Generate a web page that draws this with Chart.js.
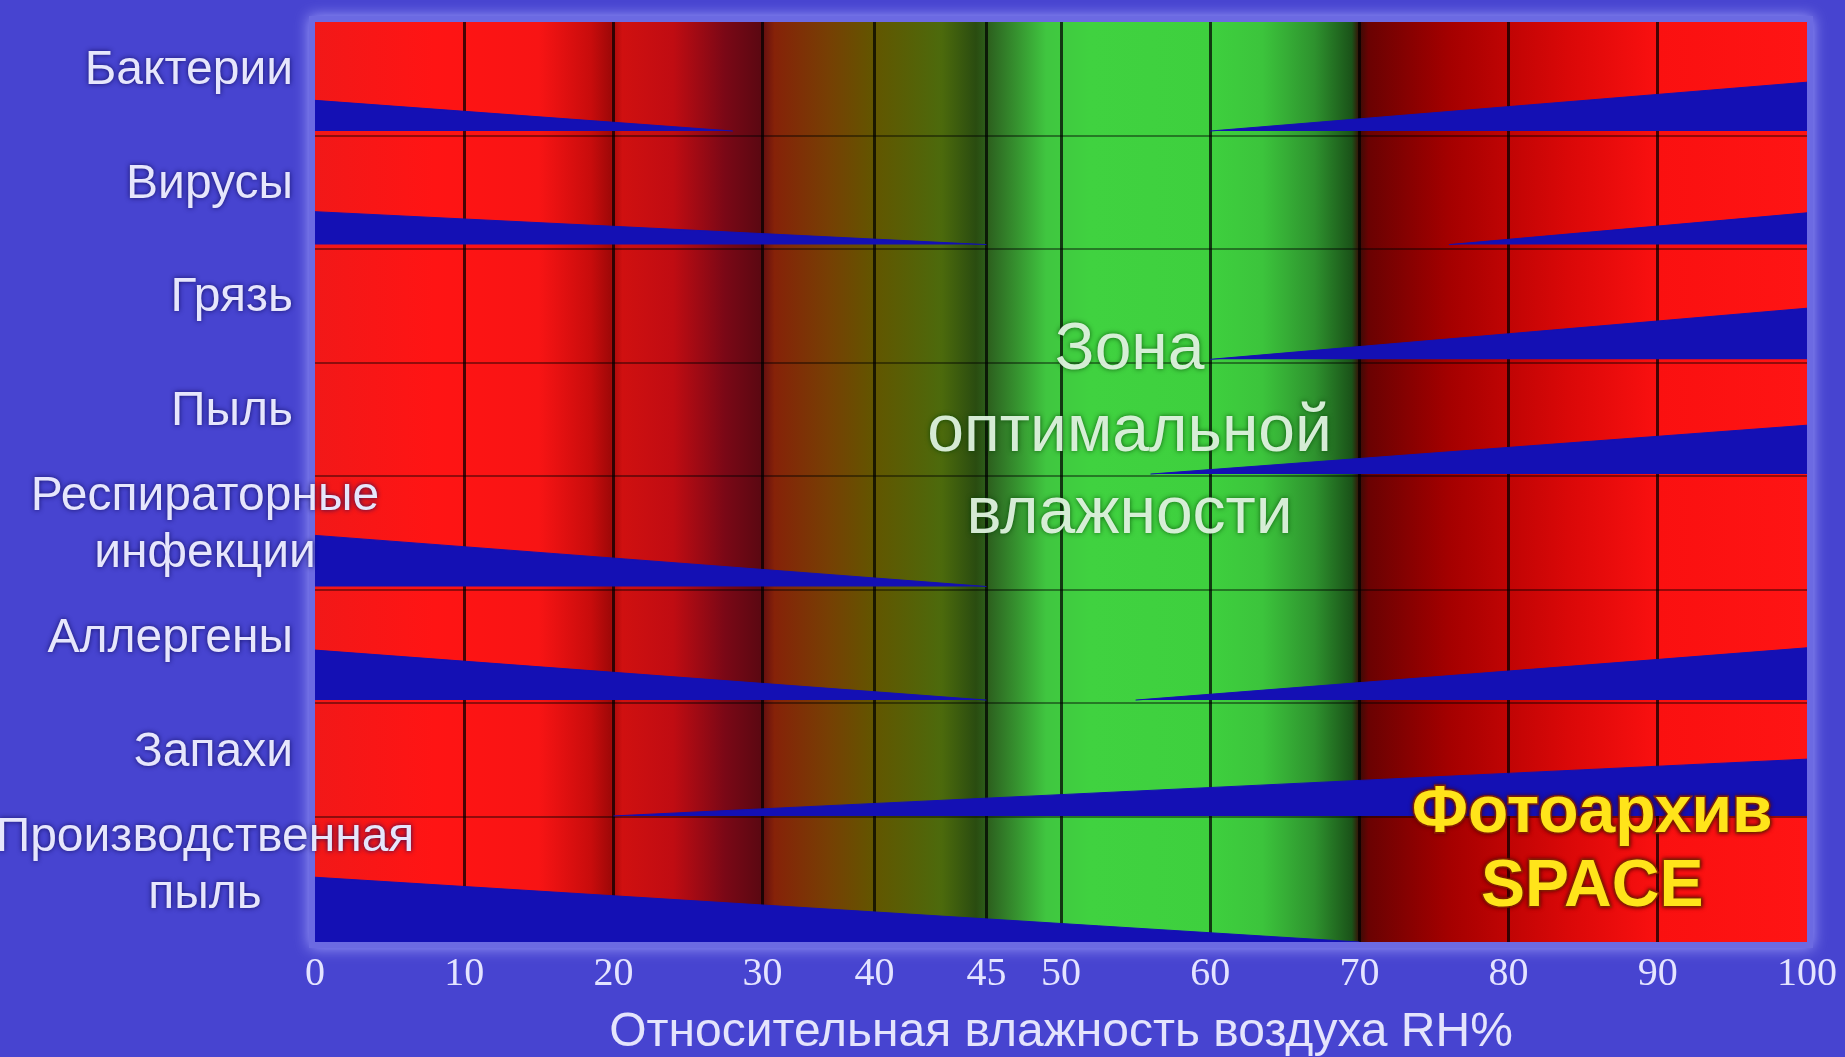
<!DOCTYPE html>
<html>
<head>
<meta charset="utf-8">
<script src="https://cdn.jsdelivr.net/npm/chart.js@4/dist/chart.umd.min.js"></script>
<style>
  html, body { margin: 0; padding: 0; background: #4744d0; overflow: hidden; }
  #wrap { width: 1845px; height: 1057px; }
</style>
</head>
<body>
<div id="wrap"><canvas id="c" width="1845" height="1057"></canvas></div>
<script>
// Rows of the chart, top to bottom
const categories = ['Бактерии', 'Вирусы', 'Грязь', 'Пыль', ['Респираторные', 'инфекции'],
                    'Аллергены', 'Запахи', ['Производственная', 'пыль']];

// Humidity axis grid and its labels
const tickValues = [0, 10, 20, 30, 37.5, 45, 50, 60, 70, 80, 90, 100];
const tickLabels = ['0', '10', '20', '30', '40', '45', '50', '60', '70', '80', '90', '100'];

// Dry side: RH at which each hazard band fades out, and its thickness at 0 %
const dryEndRH = [28, 45, null, null, 45, 45, null, 70];
const dryWidth = [0.27, 0.29, 0, 0, 0.45, 0.44, 0, 0.57];

// Humid side: RH at which each hazard band starts, and its thickness at 100 %
const wetStartRH = [60, 76, 60, 56, null, 55, 20, null];
const wetWidth = [0.43, 0.28, 0.45, 0.43, 0, 0.46, 0.50, 0];

// Lower edge of each row's bands (row i spans i..i+1)
const bandBase = [0.96, 1.96, 2.97, 3.98, 4.97, 5.97, 6.99, 8.1];
const rowAxisMax = 8.1;

const zoneTitle = ['Зона', 'оптимальной', 'влажности'];
const axisTitle = 'Относительная влажность воздуха RH%';
const stampText = ['Фотоархив', 'SPACE'];

const BAND = '#1410b4';

function band(points, base) {
  return {
    data: points,
    fill: { value: base },
    backgroundColor: BAND,
    borderColor: BAND,
    borderWidth: 1,
    pointRadius: 0,
    tension: 0
  };
}

const datasets = [];
categories.forEach((_, i) => {
  if (dryEndRH[i] !== null) {
    datasets.push(band([{ x: 0, y: bandBase[i] - dryWidth[i] }, { x: dryEndRH[i], y: bandBase[i] }], bandBase[i]));
  }
  if (wetStartRH[i] !== null) {
    datasets.push(band([{ x: wetStartRH[i], y: bandBase[i] }, { x: 100, y: bandBase[i] - wetWidth[i] }], bandBase[i]));
  }
});

// Red / green humidity field behind the grid
const fieldStops = [
  [0.00, '#f21818'], [0.08, '#ff1414'], [0.15, '#f81414'], [0.185, '#c80c0c'],
  [0.198, '#a00808'], [0.206, '#d01010'], [0.24, '#c00c12'], [0.275, '#7a0816'],
  [0.298, '#5c0812'], [0.308, '#862208'], [0.345, '#764004'], [0.375, '#625600'],
  [0.42, '#4c6a0c'], [0.443, '#2a4c10'], [0.455, '#2e6a22'], [0.49, '#40c640'],
  [0.52, '#40d240'], [0.60, '#3ed03e'], [0.635, '#3cc43c'], [0.67, '#2e922e'],
  [0.695, '#1a5218'], [0.700, '#3a0c06'], [0.706, '#6a0202'], [0.76, '#a40000'],
  [0.80, '#c00404'], [0.84, '#da0808'], [0.90, '#fa1010'], [1.00, '#ff1414']
];

const fieldPlugin = {
  id: 'humidityField',
  beforeDraw(chart) {
    const { ctx, chartArea: a } = chart;
    ctx.save();
    ctx.fillStyle = '#4744d0';
    ctx.fillRect(0, 0, chart.width, chart.height);
    ctx.shadowColor = 'rgba(170,170,255,0.9)';
    ctx.shadowBlur = 14;
    ctx.fillStyle = '#6c6ae2';
    ctx.fillRect(a.left - 6, a.top - 6, a.width + 12, a.height + 12);
    ctx.shadowBlur = 0;
    const g = ctx.createLinearGradient(a.left, 0, a.right, 0);
    fieldStops.forEach(([p, c]) => g.addColorStop(p, c));
    ctx.fillStyle = g;
    ctx.fillRect(a.left, a.top, a.width, a.height);
    ctx.restore();
  }
};

const textPlugin = {
  id: 'chartTexts',
  afterDraw(chart) {
    const { ctx, chartArea: a, scales: { x, y } } = chart;
    ctx.save();
    ctx.textBaseline = 'middle';

    // Row names
    ctx.font = '48px "Liberation Sans", Arial, sans-serif';
    ctx.fillStyle = '#e6e6fc';
    ctx.shadowColor = 'rgba(16,12,90,0.9)';
    ctx.shadowBlur = 5;
    categories.forEach((lab, i) => {
      const lines = Array.isArray(lab) ? lab : [lab];
      const cy = y.getPixelForValue(i + 0.43);
      lines.forEach((t, k) => {
        const yy = cy + (k - (lines.length - 1) / 2) * 57;
        if (lines.length > 1) {
          ctx.textAlign = 'center';
          ctx.fillText(t, a.left - 110, yy);
        } else {
          ctx.textAlign = 'right';
          ctx.fillText(t, a.left - 22, yy);
        }
      });
    });

    // Optimal zone caption
    ctx.font = '66px "Liberation Sans", Arial, sans-serif';
    ctx.textAlign = 'center';
    ctx.fillStyle = 'rgba(228,246,228,0.93)';
    ctx.shadowColor = 'rgba(0,60,0,0.8)';
    ctx.shadowBlur = 5;
    const zx = x.getPixelForValue(54.6);
    const zy = y.getPixelForValue(3.62);
    zoneTitle.forEach((t, k) => ctx.fillText(t, zx, zy + (k - 1) * 82));

    // Archive stamp
    ctx.font = 'bold 66px "Liberation Sans", Arial, sans-serif';
    ctx.shadowColor = 'rgba(80,0,0,0.9)';
    ctx.shadowBlur = 4;
    ctx.lineWidth = 3;
    ctx.strokeStyle = 'rgba(160,50,0,0.85)';
    ctx.fillStyle = '#ffe41a';
    const sx = x.getPixelForValue(85.6);
    [[stampText[0], a.bottom - 128], [stampText[1], a.bottom - 54]].forEach(([t, yy]) => {
      ctx.strokeText(t, sx, yy);
      ctx.fillText(t, sx, yy);
    });
    ctx.restore();
  }
};

new Chart(document.getElementById('c'), {
  type: 'line',
  data: { datasets },
  plugins: [fieldPlugin, textPlugin],
  options: {
    responsive: false,
    animation: false,
    layout: { padding: { top: 22, right: 27, left: 0, bottom: 0 } },
    plugins: { legend: { display: false }, tooltip: { enabled: false } },
    scales: {
      x: {
        type: 'linear',
        min: 0,
        max: 100,
        afterBuildTicks: s => { s.ticks = tickValues.map(v => ({ value: v })); },
        afterFit: s => { s.height = 115; },
        border: { display: false },
        grid: {
          drawTicks: false,
          lineWidth: 3,
          color: c => (c.index === 0 || c.index === tickValues.length - 1) ? 'rgba(0,0,0,0)' : 'rgba(0,0,0,0.72)'
        },
        ticks: {
          autoSkip: false,
          maxRotation: 0,
          padding: 8,
          color: '#e4e4ff',
          font: { family: '"Liberation Serif", "Times New Roman", serif', size: 40 },
          callback: (v, i) => tickLabels[i]
        },
        title: {
          display: true,
          text: axisTitle,
          color: '#e4e4fc',
          font: { family: '"Liberation Sans", Arial, sans-serif', size: 48, lineHeight: 1 },
          padding: { top: 0, bottom: 0 }
        }
      },
      y: {
        type: 'linear',
        min: 0,
        max: rowAxisMax,
        reverse: true,
        afterBuildTicks: s => { s.ticks = [1, 2, 3, 4, 5, 6, 7].map(v => ({ value: v })); },
        afterFit: s => { s.width = 315; },
        border: { display: false },
        grid: { drawTicks: false, lineWidth: 2, color: 'rgba(0,0,0,0.42)' },
        ticks: { display: false }
      }
    }
  }
});
</script>
</body>
</html>
